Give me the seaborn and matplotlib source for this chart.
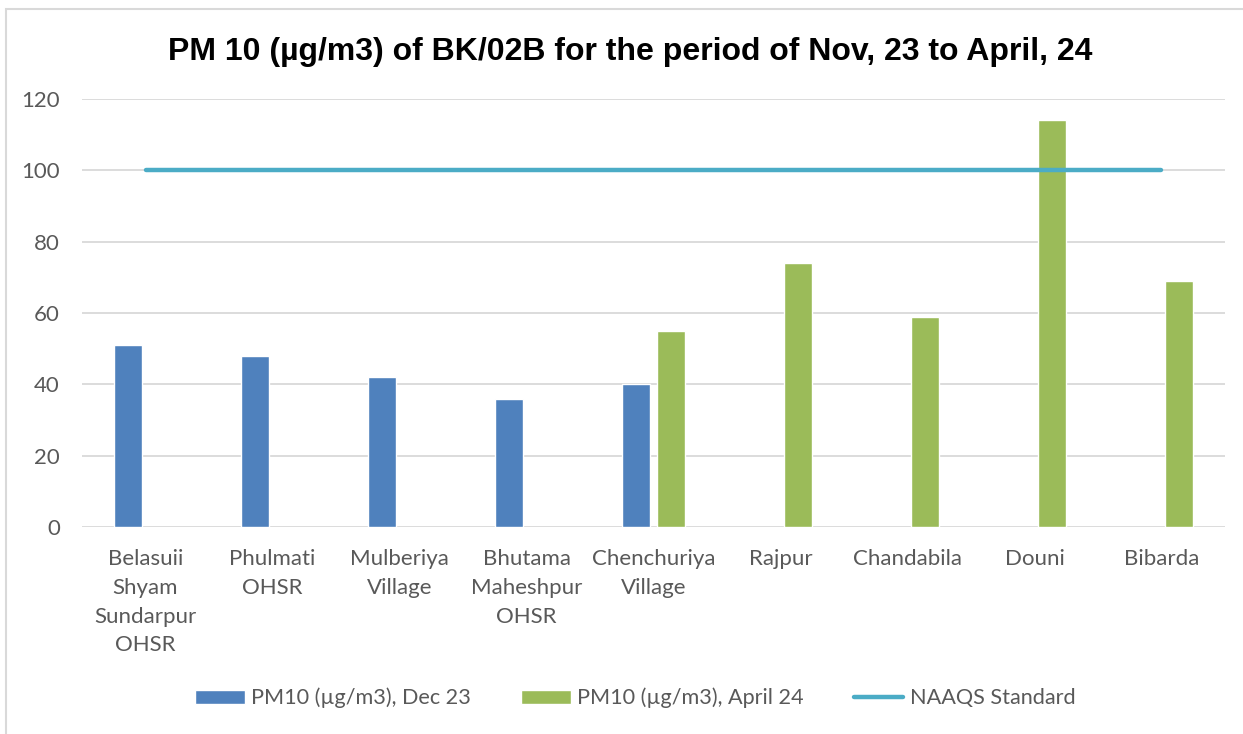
import numpy as np
import pandas as pd
import matplotlib
matplotlib.use("Agg")
import matplotlib.pyplot as plt
import seaborn as sns
from matplotlib.patches import Patch, Rectangle
from matplotlib.lines import Line2D

locations = [
    "Belasuii\nShyam\nSundarpur\nOHSR",
    "Phulmati\nOHSR",
    "Mulberiya\nVillage",
    "Bhutama\nMaheshpur\nOHSR",
    "Chenchuriya\nVillage",
    "Rajpur",
    "Chandabila",
    "Douni",
    "Bibarda",
]
pm10_dec23 = [51, 48, 42, 36, 40, np.nan, np.nan, np.nan, np.nan]
pm10_apr24 = [np.nan, np.nan, np.nan, np.nan, 55, 74, 59, 114, 69]
naaqs = [100] * len(locations)

series_names = ["PM10 (µg/m3), Dec 23", "PM10 (µg/m3), April 24"]
colors = ["#4F81BD", "#9BBB59"]
line_color = "#4BACC6"
text_color = "#595959"

df = pd.DataFrame({
    "Location": locations * 2,
    "Series": [series_names[0]] * len(locations) + [series_names[1]] * len(locations),
    "PM10": pm10_dec23 + pm10_apr24,
})

sns.set_style("white")
plt.rcParams["font.family"] = ["Lato", "DejaVu Sans"]

fig = plt.figure(figsize=(12.43, 7.34), dpi=100)
ax = fig.add_axes([0.066, 0.282, 0.9195, 0.583])

sns.barplot(data=df, x="Location", y="PM10", hue="Series", order=locations,
            hue_order=series_names, palette=colors, width=0.566, gap=0.22,
            saturation=1, ax=ax, legend=False, errorbar=None)

sns.lineplot(x=np.arange(len(locations)), y=naaqs, color=line_color,
             linewidth=3.2, solid_capstyle="round", ax=ax, legend=False)

ax.set_ylim(0, 120)
ax.set_xlim(-0.5, 8.5)
ax.set_yticks(range(0, 121, 20))
ax.yaxis.grid(True, color="#D9D9D9", linewidth=1.3)
ax.set_axisbelow(True)
for s in ax.spines.values():
    s.set_visible(False)
ax.set_xlabel("")
ax.set_ylabel("")
ax.tick_params(axis="both", length=0, labelsize=16, colors=text_color)
ax.tick_params(axis="x", pad=16)
ax.tick_params(axis="y", pad=16)
for lbl in ax.get_xticklabels():
    lbl.set_linespacing(1.54)

fig.text(0.507, 0.918, "PM 10 (µg/m3) of BK/02B for the period of Nov, 23 to April, 24",
         ha="center", va="baseline", fontsize=23, fontweight="bold",
         family=["Liberation Sans", "DejaVu Sans"], color="black")

handles = [
    Patch(facecolor=colors[0], label=series_names[0]),
    Patch(facecolor=colors[1], label=series_names[1]),
    Line2D([0], [0], color=line_color, linewidth=3.2, solid_capstyle="round",
           label="NAAQS Standard"),
]
fig.legend(handles=handles, loc="center", bbox_to_anchor=(0.511, 0.049), ncol=3,
           frameon=False, fontsize=15.6, handlelength=2.3, handleheight=0.62,
           handletextpad=0.3, columnspacing=2.3, labelcolor=text_color)

fig.patches.append(Rectangle((6 / 1243, -0.1), 1.2, 1 - 9 / 734 + 0.1,
                             transform=fig.transFigure, fill=False,
                             edgecolor="#D9D9D9", linewidth=1.5))

fig.savefig("out.png", dpi=100)
